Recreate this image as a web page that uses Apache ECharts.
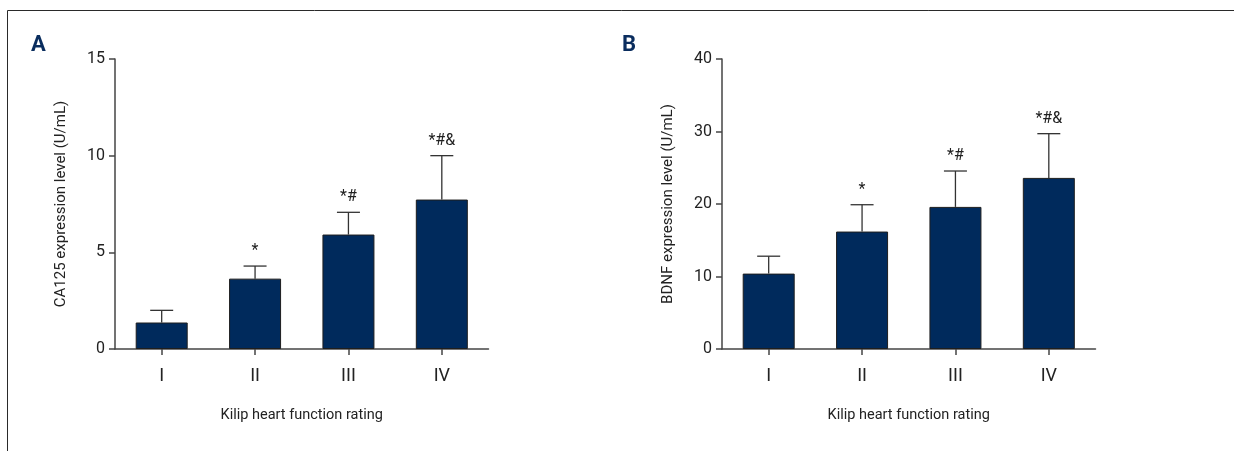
<!DOCTYPE html>
<html><head><meta charset="utf-8">
<script src="https://cdn.jsdelivr.net/npm/echarts@6/dist/echarts.min.js"></script>
<style>html,body{margin:0;padding:0;background:#fff}#c{width:1234px;height:451px}</style>
</head><body><div id="c"></div>
<script>
var categories = ['I', 'II', 'III', 'IV'];
var ca125Mean = [1.37, 3.64, 5.92, 7.73];
var ca125SD = [0.63, 0.65, 1.15, 2.27];
var bdnfMean = [10.4, 16.2, 19.6, 23.6];
var bdnfSD = [2.4, 3.7, 4.95, 6.1];
var sigMarks = ['', '*', '*#', '*#&'];
var yTicksA = [0, 5, 10, 15];
var yTicksB = [0, 10, 20, 30, 40];

var FONT = 'Roboto, "Liberation Sans", sans-serif';
var NAVY = '#002a5c';
var AX = '#454545';
var TXT = '#222';

function errSeries(idx, mean, sd) {
  return {
    type: 'custom', xAxisIndex: idx, yAxisIndex: idx, z: 1,
    data: mean.map(function (m, i) { return [i, m, m + sd[i], sigMarks[i]]; }),
    renderItem: function (params, api) {
      var base = api.coord([api.value(0), api.value(1)]);
      var top = api.coord([api.value(0), api.value(2)]);
      var half = 11.5;
      return {
        type: 'group', children: [
          { type: 'line', shape: { x1: base[0], y1: base[1], x2: top[0], y2: top[1] }, style: { stroke: '#333', lineWidth: 1.3 } },
          { type: 'line', shape: { x1: top[0] - half, y1: top[1], x2: top[0] + half, y2: top[1] }, style: { stroke: '#333', lineWidth: 1.3 } },
          { type: 'text', style: { text: api.value(3), x: top[0], y: top[1] - 7, textAlign: 'center', textVerticalAlign: 'bottom', font: '16px ' + FONT, fill: TXT } }
        ]
      };
    }
  };
}

function xAx(idx) {
  return {
    type: 'category', gridIndex: idx, data: categories,
    axisLine: { lineStyle: { color: AX, width: 1.5 } },
    axisTick: { show: true, alignWithLabel: true, length: 6, lineStyle: { color: AX, width: 1.5 } },
    axisLabel: { fontFamily: FONT, fontSize: 18, color: TXT, margin: 18 },
    name: 'Kilip heart function rating', nameLocation: 'middle', nameGap: 59,
    nameTextStyle: { fontFamily: FONT, fontSize: 14.5, color: TXT }
  };
}
function yAx(idx, max, interval, name) {
  return {
    type: 'value', gridIndex: idx, min: 0, max: max, interval: interval,
    splitLine: { show: false },
    axisLine: { show: true, lineStyle: { color: AX, width: 1.5 } },
    axisTick: { show: true, length: 6, lineStyle: { color: AX, width: 1.5 } },
    axisLabel: { fontFamily: FONT, fontSize: 16, color: TXT, margin: 10 },
    name: name, nameLocation: 'middle', nameGap: 46, nameRotate: 90,
    nameTextStyle: { fontFamily: FONT, fontSize: 15, color: TXT }
  };
}

var chart = echarts.init(document.getElementById('c'), null, { renderer: 'canvas' });
chart.setOption({
  animation: false,
  backgroundColor: '#fff',
  graphic: [
    { type: 'polyline', shape: { points: [[7.5, 460], [7.5, 10.5], [1240, 10.5]] }, style: { stroke: '#2a2a2a', lineWidth: 1, fill: null } },
    { type: 'text', left: 31, top: 34, style: { text: 'A', font: 'bold 22px ' + FONT, fill: '#0a2d5e' } },
    { type: 'text', left: 622, top: 34, style: { text: 'B', font: 'bold 22px ' + FONT, fill: '#0a2d5e' } }
  ],
  grid: [
    { left: 115, top: 59, width: 373.5, height: 290 },
    { left: 722, top: 59, width: 373.5, height: 290 }
  ],
  xAxis: [xAx(0), xAx(1)],
  yAxis: [
    yAx(0, yTicksA[yTicksA.length - 1], yTicksA[1] - yTicksA[0], 'CA125 expression level (U/mL)'),
    yAx(1, yTicksB[yTicksB.length - 1], yTicksB[1] - yTicksB[0], 'BDNF expression level (U/mL)')
  ],
  series: [
    { type: 'bar', xAxisIndex: 0, yAxisIndex: 0, data: ca125Mean, barWidth: 52, z: 2,
      itemStyle: { color: NAVY, borderColor: '#1e1e1e', borderWidth: 1 } },
    { type: 'bar', xAxisIndex: 1, yAxisIndex: 1, data: bdnfMean, barWidth: 52, z: 2,
      itemStyle: { color: NAVY, borderColor: '#1e1e1e', borderWidth: 1 } },
    errSeries(0, ca125Mean, ca125SD),
    errSeries(1, bdnfMean, bdnfSD)
  ]
});
</script></body></html>
